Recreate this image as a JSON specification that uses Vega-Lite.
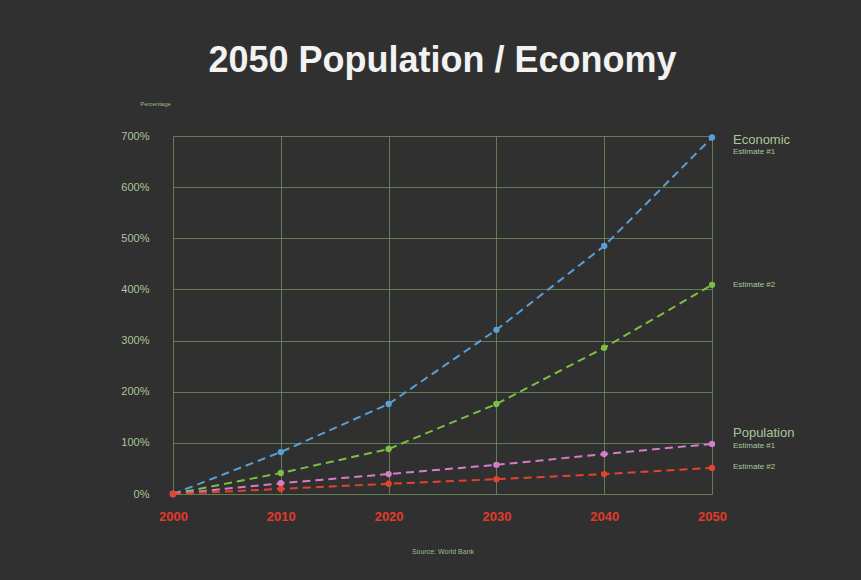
{
  "$schema": "https://vega.github.io/schema/vega-lite/v6.json",
  "autosize": "none",
  "width": 539,
  "height": 358,
  "padding": {"left": 173, "top": 136, "right": 149, "bottom": 86},
  "background": "#303030",
  "config": {
    "font": "Liberation Sans",
    "view": {"stroke": null},
    "axis": {"domain": false, "ticks": false, "gridColor": "#6f9160", "gridOpacity": 0.8, "gridWidth": 1}
  },
  "title": {
    "text": "2050 Population / Economy",
    "fontSize": 36,
    "fontWeight": "bold",
    "color": "#f2f2f2",
    "anchor": "middle",
    "offset": 20
  },
  "datasets": {
    "series": [
      {"year": 2000, "value": 0, "series": "Economic #1"},
      {"year": 2010, "value": 82, "series": "Economic #1"},
      {"year": 2020, "value": 176, "series": "Economic #1"},
      {"year": 2030, "value": 321, "series": "Economic #1"},
      {"year": 2040, "value": 485, "series": "Economic #1"},
      {"year": 2050, "value": 697, "series": "Economic #1"},
      {"year": 2000, "value": 0, "series": "Economic #2"},
      {"year": 2010, "value": 41, "series": "Economic #2"},
      {"year": 2020, "value": 88, "series": "Economic #2"},
      {"year": 2030, "value": 176, "series": "Economic #2"},
      {"year": 2040, "value": 286, "series": "Economic #2"},
      {"year": 2050, "value": 409, "series": "Economic #2"},
      {"year": 2000, "value": 0, "series": "Population #1"},
      {"year": 2010, "value": 21, "series": "Population #1"},
      {"year": 2020, "value": 39, "series": "Population #1"},
      {"year": 2030, "value": 57, "series": "Population #1"},
      {"year": 2040, "value": 78, "series": "Population #1"},
      {"year": 2050, "value": 98, "series": "Population #1"},
      {"year": 2000, "value": 0, "series": "Population #2"},
      {"year": 2010, "value": 10, "series": "Population #2"},
      {"year": 2020, "value": 20, "series": "Population #2"},
      {"year": 2030, "value": 29, "series": "Population #2"},
      {"year": 2040, "value": 39, "series": "Population #2"},
      {"year": 2050, "value": 51, "series": "Population #2"}
    ],
    "bigLabels": [
      {"year": 2050, "value": 693, "text": "Economic"},
      {"year": 2050, "value": 119, "text": "Population"}
    ],
    "smallLabels": [
      {"year": 2050, "value": 669, "text": "Estimate #1"},
      {"year": 2050, "value": 409, "text": "Estimate #2"},
      {"year": 2050, "value": 94, "text": "Estimate #1"},
      {"year": 2050, "value": 53, "text": "Estimate #2"}
    ]
  },
  "encoding": {
    "x": {
      "field": "year", "type": "quantitative",
      "scale": {"domain": [2000, 2050], "nice": false, "zero": false},
      "axis": {
        "values": [2000, 2010, 2020, 2030, 2040, 2050],
        "format": "d",
        "labelFlush": false,
        "labelColor": "#e23b2a",
        "labelFontWeight": "bold",
        "labelFontSize": 13,
        "labelPadding": 16,
        "title": "Source: World Bank",
        "titleFontSize": 7,
        "titleFontWeight": "normal",
        "titleColor": "#9dbb8c",
        "titlePadding": 24
      }
    },
    "y": {
      "field": "value", "type": "quantitative",
      "scale": {"domain": [0, 700], "nice": false},
      "axis": {
        "values": [0, 100, 200, 300, 400, 500, 600, 700],
        "labelExpr": "datum.value + '%'",
        "labelColor": "#a9c79a",
        "labelFontSize": 11,
        "labelPadding": 24,
        "title": "Percentage",
        "titleAngle": 0,
        "titleFontSize": 6,
        "titleFontWeight": "normal",
        "titleColor": "#9dbb8c",
        "titleX": -18,
        "titleY": -30,
        "titleAlign": "center"
      }
    }
  },
  "layer": [
    {
      "data": {"name": "series"},
      "mark": {"type": "line", "strokeDash": [8, 5], "strokeWidth": 2},
      "encoding": {
        "color": {
          "field": "series", "type": "nominal", "legend": null,
          "scale": {"domain": ["Economic #1", "Economic #2", "Population #1", "Population #2"], "range": ["#5a9fd6", "#7cc043", "#d77cc8", "#e2432f"]}
        }
      }
    },
    {
      "data": {"name": "series"},
      "mark": {"type": "point", "filled": true, "size": 40, "opacity": 1},
      "encoding": {
        "color": {
          "field": "series", "type": "nominal", "legend": null,
          "scale": {"domain": ["Economic #1", "Economic #2", "Population #1", "Population #2"], "range": ["#5a9fd6", "#7cc043", "#d77cc8", "#e2432f"]}
        }
      }
    },
    {
      "data": {"name": "bigLabels"},
      "mark": {"type": "text", "align": "left", "dx": 21, "fontSize": 13, "color": "#a9c79a", "baseline": "middle"},
      "encoding": {"text": {"field": "text"}}
    },
    {
      "data": {"name": "smallLabels"},
      "mark": {"type": "text", "align": "left", "dx": 21, "fontSize": 8, "color": "#a9c79a", "baseline": "middle"},
      "encoding": {"text": {"field": "text"}}
    }
  ]
}
